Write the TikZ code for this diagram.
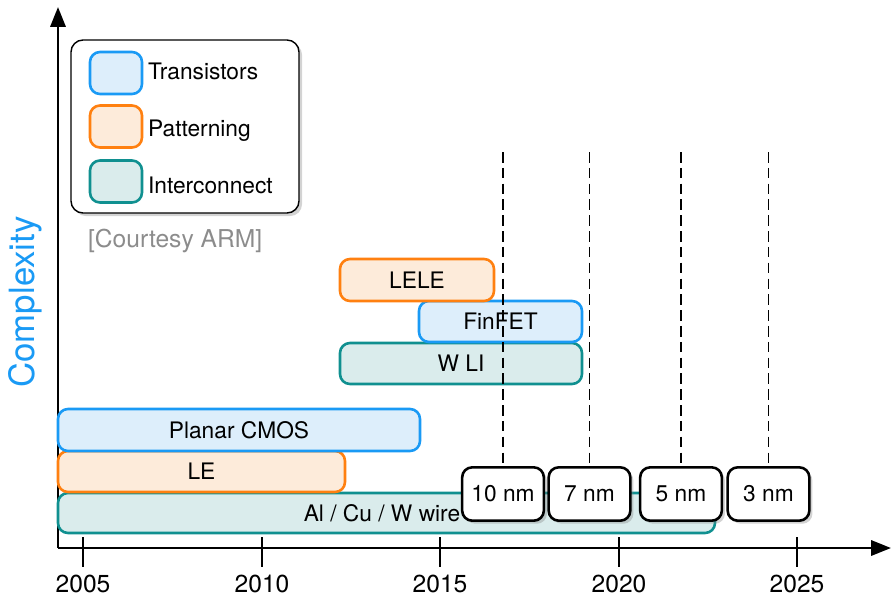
\documentclass[tikz,border=0pt]{standalone}
\usepackage{fontspec}
\setmainfont{TeX Gyre Heros}
\usetikzlibrary{arrows.meta,positioning,shadows}
\definecolor{transC}{RGB}{26,154,245}
\definecolor{transF}{RGB}{221,238,251}
\definecolor{pattC}{RGB}{255,128,16}
\definecolor{pattF}{RGB}{253,235,218}
\definecolor{interC}{RGB}{16,144,144}
\definecolor{interF}{RGB}{218,236,236}
\definecolor{courtesy}{RGB}{140,140,140}
\newcommand{\lblfont}{\fontsize{19.4}{22}\selectfont}

\begin{document}
\begin{tikzpicture}[x=0.03cm,y=-0.03cm,font=\lblfont,>={Triangle[length=17pt,width=13pt]},
  bar/.style={draw,line width=2.2pt,rounded corners=0.3cm,inner sep=0pt},
  trans/.style={bar,draw=transC,fill=transF},
  patt/.style={bar,draw=pattC,fill=pattF},
  inter/.style={bar,draw=interC,fill=interF},
  nmbox/.style={draw,line width=2.2pt,rounded corners=0.3cm,fill=white,
    minimum width=2.45cm,minimum height=1.6cm,drop shadow={opacity=0.35}},
  swatch/.style={minimum width=1.56cm,minimum height=1.26cm}]
\useasboundingbox (0,0) rectangle (891,602);
% ================= axes =================
\coordinate (O) at (58,548);
\coordinate (ytop) at (58,7);
\coordinate (xend) at (891,548);
\draw[->,line width=2.2pt] (O) -- (ytop);
\draw[->,line width=2.2pt] (O) -- (xend);
\foreach \x/\yr in {83/2005,262/2010,440/2015,619/2020,797/2025}{
  \draw[line width=2.2pt] (\x,537) -- (\x,567);
  \node[font=\fontsize{21}{24}\selectfont] (yr\yr) at (\x,584) {\yr};
}
\node[rotate=90,text=transC,font=\fontsize{29.7}{32}\selectfont] (ylab) at (25,302) {Complexity};
% ================= legend =================
\node[draw,line width=1.2pt,rounded corners=0.36cm,fill=white,minimum width=6.84cm,
      minimum height=5.19cm,drop shadow={opacity=0.35}] (legend) at (185,126.5) {};
\node[trans,swatch] (legT) at (116,73) {};
\node[patt,swatch] (legP) at (116,126.5) {};
\node[inter,swatch] (legI) at (116,181.5) {};
\node[anchor=base west] (legTtxt) at (144,79) {Transistors};
\node[anchor=base west] (legPtxt) at (144,136) {Patterning};
\node[anchor=base west] (legItxt) at (144,193) {Interconnect};
\node[anchor=west,text=courtesy,font=\fontsize{21}{24}\selectfont] (courtesy) at (84,241) {[Courtesy ARM]};
% ================= technology bars =================
\node[inter,minimum width=19.71cm,minimum height=1.2cm] (wire) at (386.5,513) {};
\node (wiretxt) at (382,513) {Al / Cu / W wire};
\node[patt,minimum width=8.61cm,minimum height=1.23cm] (le) at (201.5,471.5) {LE};
\node[trans,minimum width=10.86cm,minimum height=1.26cm] (planar) at (239,430) {Planar CMOS};
\node[inter,minimum width=7.26cm,minimum height=1.23cm] (wli) at (461,363.5) {W LI};
\node[trans,minimum width=4.89cm,minimum height=1.23cm] (finfet) at (500.5,321.5) {FinFET};
\node[patt,minimum width=4.62cm,minimum height=1.26cm] (lele) at (417,280) {LELE};
% ================= nodes (nm) =================
\foreach \x/\n in {503/10,589.5/7,681/5,768.5/3}{
  \coordinate (top\n) at (\x,152);
  \node[nmbox] (nm\n) at (\x,494) {\n\ nm};
  \draw[line width=0.9pt,dash pattern=on 9pt off 4.5pt] (top\n) -- (nm\n.north);
}
\end{tikzpicture}
\end{document}
